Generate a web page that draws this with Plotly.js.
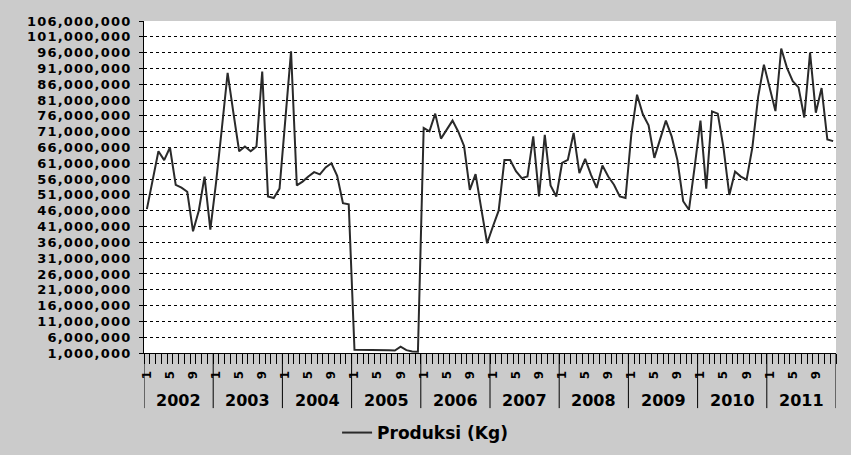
<!DOCTYPE html>
<html>
<head>
<meta charset="utf-8">
<script src="https://cdn.plot.ly/plotly-3.0.1.min.js"></script>
<style>
html,body{margin:0;padding:0;background:#cbcbcb;}
#chart{width:851px;height:455px;outline:1px solid #555;outline-offset:-1px;}
#chart .ytick text{letter-spacing:1.2px;}
</style>
</head>
<body>
<div id="chart"></div>
<script>
// Years (category groups) and month tick labels
const years = [2002, 2003, 2004, 2005, 2006, 2007, 2008, 2009, 2010, 2011];
const monthTicks = [1, 5, 9];

// Monthly production (Kg)
const prod2002 = [46500000, 55500000, 64800000, 62000000, 66000000, 54200000, 53300000, 52000000, 39500000, 46000000, 56800000, 40000000];
const prod2003 = [55000000, 72000000, 89600000, 77000000, 64800000, 66300000, 64800000, 66300000, 90000000, 50500000, 50000000, 53000000];
const prod2004 = [74000000, 96400000, 54000000, 55200000, 56800000, 58200000, 57500000, 59700000, 61000000, 57000000, 48400000, 48000000];
const prod2005 = [2000000, 2000000, 2100000, 2000000, 2000000, 1900000, 1900000, 1800000, 3000000, 1900000, 1500000, 1400000];
const prod2006 = [72200000, 71100000, 76700000, 68800000, 71500000, 74500000, 71000000, 66500000, 52600000, 57600000, 46500000, 35700000];
const prod2007 = [41000000, 46000000, 62000000, 62000000, 58500000, 56300000, 56800000, 69500000, 50500000, 70000000, 54000000, 50500000];
const prod2008 = [61100000, 62100000, 70600000, 57900000, 62400000, 57400000, 53200000, 60300000, 56800000, 54200000, 50500000, 50000000];
const prod2009 = [70000000, 82700000, 76500000, 73000000, 62700000, 68500000, 74500000, 69500000, 62000000, 49000000, 46300000, 60000000];
const prod2010 = [74500000, 53000000, 77400000, 76700000, 65800000, 51000000, 58400000, 56800000, 55800000, 66000000, 82000000, 92200000];
const prod2011 = [84800000, 77500000, 97300000, 91200000, 87000000, 85000000, 75500000, 96000000, 77000000, 84800000, 68500000, 68000000];

// Y axis tick values
const yTicks = [1000000, 6000000, 11000000, 16000000, 21000000, 26000000, 31000000, 36000000, 41000000, 46000000, 51000000, 56000000, 61000000, 66000000, 71000000, 76000000, 81000000, 86000000, 91000000, 96000000, 101000000, 106000000];

const seriesName = 'Produksi (Kg)';

const allYears = [prod2002, prod2003, prod2004, prod2005, prod2006, prod2007, prod2008, prod2009, prod2010, prod2011];
const yVals = [];
const xIdx = [];
allYears.forEach((arr, yi) => arr.forEach((v, mi) => { xIdx.push(yi * 12 + mi); yVals.push(v); }));

const tickvals = [], ticktext = [];
years.forEach((y, yi) => monthTicks.forEach(m => { tickvals.push(yi * 12 + m - 1); ticktext.push(String(m)); }));

const FONT = 'DejaVu Sans, Verdana, sans-serif';

const shapes = [];
for (let i = 0; i <= years.length; i++) {
  shapes.push({type: 'line', xref: 'x', yref: 'paper', x0: i * 12 - 0.5, x1: i * 12 - 0.5, y0: 0, y1: -0.166,
    line: {color: '#000', width: 1}});
}
const annotations = years.map((y, yi) => ({
  x: yi * 12 + 5.5, xref: 'x', y: -0.142, yref: 'paper', text: String(y), showarrow: false,
  yanchor: 'middle', font: {family: FONT, size: 16, color: '#000', weight: 'bold'}
}));

const trace = {
  x: xIdx, y: yVals, type: 'scatter', mode: 'lines', name: seriesName,
  line: {color: '#2a2a2a', width: 2}
};

const layout = {
  width: 851, height: 455,
  margin: {l: 144, r: 15, t: 21, b: 102, autoexpand: false},
  paper_bgcolor: '#cbcbcb', plot_bgcolor: '#ffffff',
  font: {family: FONT, color: '#000'},
  showlegend: true,
  legend: {orientation: 'h', x: 0.279, xanchor: 'left', y: -0.241, yanchor: 'middle',
    bgcolor: 'rgba(0,0,0,0)', font: {family: FONT, size: 17, color: '#000', weight: 'bold'}},
  hovermode: false,
  xaxis: {
    range: [-0.5, 119.5], showgrid: false, zeroline: false, automargin: false,
    showline: true, linecolor: '#000', linewidth: 1,
    tickmode: 'array', tickvals: tickvals, ticktext: ticktext, tickangle: -90,
    ticks: 'outside', ticklen: 12, tickcolor: 'rgba(0,0,0,0)',
    tickfont: {family: FONT, size: 12, color: '#000', weight: 'bold'},
    minor: {tickmode: 'linear', tick0: -0.5, dtick: 1, ticks: 'outside', ticklen: 10, tickcolor: '#000', tickwidth: 1, showgrid: false}
  },
  yaxis: {
    range: [1000000, 106000000], tickmode: 'array', tickvals: yTicks, tickformat: ',d',
    showgrid: true, gridcolor: '#000', griddash: 'dot', gridwidth: 1, automargin: false,
    zeroline: false, showline: true, linecolor: '#000', linewidth: 1,
    ticks: 'outside', ticklen: 4, tickcolor: '#000', ticklabelstandoff: 5,
    tickfont: {family: FONT, size: 13, color: '#000', weight: 'bold'}
  },
  shapes: shapes,
  annotations: annotations
};

Plotly.newPlot('chart', [trace], layout, {staticPlot: true, displayModeBar: false});
</script>
</body>
</html>
